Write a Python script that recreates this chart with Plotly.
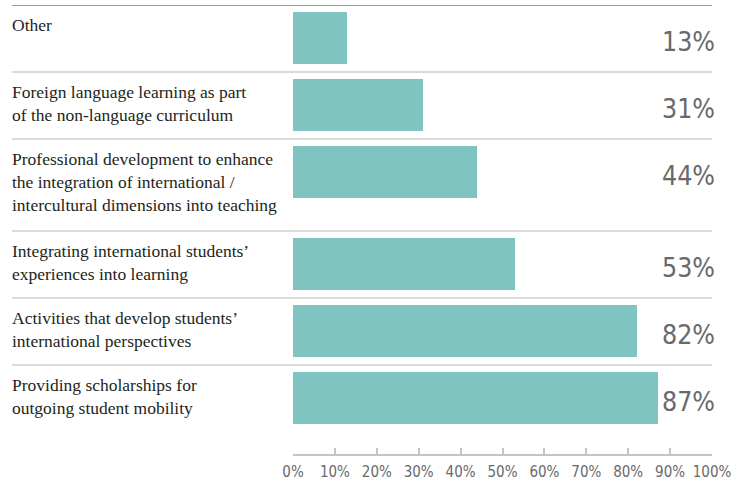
import plotly.graph_objects as go

# Survey categories (top to bottom) and the share of respondents for each
categories = [
    "Other",
    "Foreign language learning as part<br>of the non-language curriculum",
    "Professional development to enhance<br>the integration of international /<br>intercultural dimensions into teaching",
    "Integrating international students’<br>experiences into learning",
    "Activities that develop students’<br>international perspectives",
    "Providing scholarships for<br>outgoing student mobility",
]
values = [13, 31, 44, 53, 82, 87]
tick_values = [0, 10, 20, 30, 40, 50, 60, 70, 80, 90, 100]
tick_labels = [f"{v}%" for v in tick_values]

W, H = 748, 481
PLOT_L, PLOT_R = 293, 712      # pixel extent of the 0–100 % axis
PLOT_T, PLOT_B = 5, 454        # top rule to axis line

BAR_COLOR = "#80c4c1"
TEXT_GRAY = "#68696c"
SERIF = "Liberation Serif"
NARROW = "DejaVu Sans Condensed"

# Row layout: each row is 67 px tall, plus room for any third line of label text
BASE_ROW, EXTRA_LINE, BAR_GAP, BAR_H = 67, 25, 7, 52
row_tops = []
top = 0
for label in categories:
    n_lines = label.count("<br>") + 1
    row_tops.append(top)
    top += BASE_ROW + EXTRA_LINE * max(0, n_lines - 2)
bar_centers = [t + BAR_GAP + BAR_H / 2 for t in row_tops]

fig = go.Figure()
fig.add_trace(go.Bar(
    x=values,
    y=bar_centers,
    orientation="h",
    width=BAR_H,
    marker=dict(color=BAR_COLOR, line=dict(width=0)),
    hoverinfo="skip",
))

plot_w = PLOT_R - PLOT_L
rule_x = (12 - PLOT_L) / plot_w
label_x = (10 - PLOT_L) / plot_w
value_x = (717 - PLOT_L) / plot_w

shapes = []
annotations = []
for i, (label, val, t, c) in enumerate(zip(categories, values, row_tops, bar_centers)):
    # horizontal rule above each row
    shapes.append(dict(
        type="line", xref="paper", yref="y",
        x0=rule_x, x1=1.0, y0=t, y1=t,
        line=dict(color="#9a9a9a" if i == 0 else "#cfcfcf", width=2 if i == 0 else 1.5),
        layer="below",
    ))
    annotations.append(dict(
        text=label, xref="paper", yref="y", x=label_x, y=t + 8,
        xanchor="left", yanchor="top", align="left", showarrow=False,
        font=dict(family=SERIF, size=17.5, color="#231f20"),
    ))
    annotations.append(dict(
        text=f"{val}%", xref="paper", yref="y", x=value_x, y=c,
        xanchor="right", yanchor="middle", showarrow=False, yshift=-3,
        font=dict(family=NARROW, size=26.5, color=TEXT_GRAY),
    ))

fig.update_layout(
    width=W, height=H,
    margin=dict(l=PLOT_L, r=W - PLOT_R, t=PLOT_T, b=H - PLOT_B, pad=0),
    paper_bgcolor="white", plot_bgcolor="white",
    showlegend=False,
    bargap=0,
    shapes=shapes,
    annotations=annotations,
    xaxis=dict(
        range=[0, 100], tickvals=tick_values, ticktext=tick_labels,
        showgrid=False, zeroline=False, automargin=False, tickangle=0,
        showline=True, linecolor="#c4c4c4", linewidth=1.5,
        ticks="inside", ticklen=6, tickcolor="#c4c4c4", tickwidth=1.5,
        tickfont=dict(family=NARROW, size=15, color=TEXT_GRAY),
        ticklabelstandoff=3,
        fixedrange=True,
    ),
    yaxis=dict(
        range=[PLOT_B - PLOT_T, 0], showgrid=False, zeroline=False, automargin=False,
        showticklabels=False, showline=False, ticks="", fixedrange=True,
    ),
)

fig.write_html("out.html", config={"displayModeBar": False})
